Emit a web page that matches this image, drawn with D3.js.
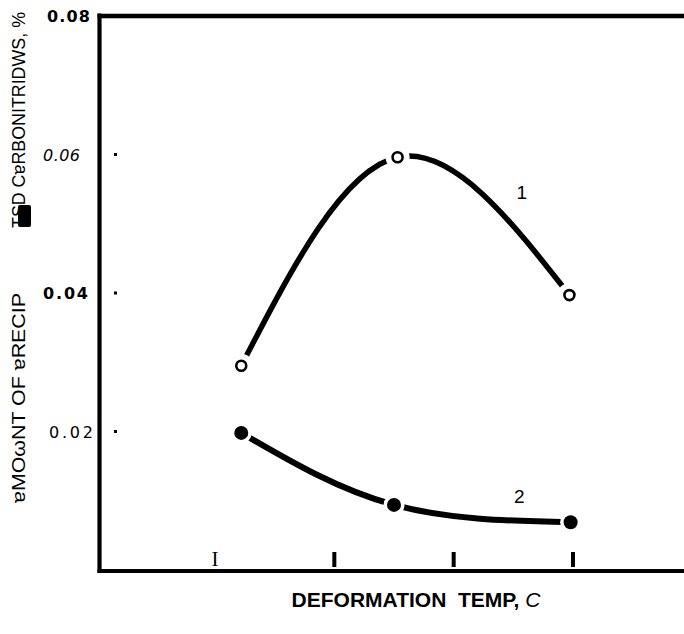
<!DOCTYPE html>
<html>
<head>
<meta charset="utf-8">
<script src="https://cdn.jsdelivr.net/npm/d3@7"></script>
<style>
  html, body { margin: 0; padding: 0; background: #fff; }
  svg { display: block; }
</style>
</head>
<body>
<svg id="chart" width="684" height="634"></svg>
<script>
// ---------- data ----------
const xTicks = [900, 1000, 1100, 1200];          // deformation temperature ticks (unlabelled)
const yTicks = [0.02, 0.04, 0.06, 0.08];
const yTickLabels = ["0.02", "0.04", "0.06", "0.08"];

const temp1 = [922, 1053, 1197];                   // curve 1 (open circles)
const carbo1 = [0.0295, 0.0596, 0.0397];
const temp2 = [922, 1050, 1198];                   // curve 2 (filled circles)
const carbo2 = [0.0198, 0.0094, 0.0069];

const curveLabels = ["1", "2"];
const curveLabelTemp = [1157, 1155];
const curveLabelValue = [0.0546, 0.0107];

const yTitleA = "ɐMOωNT OF ɐRECIP";
const yTitleB = "TSD CɐRBONITRIDWS, %";
const xTitleMain = "DEFORMATION  TEMP, ";
const xTitleUnit = "C";

// ---------- layout ----------
const svg = d3.select("#chart");
const x = d3.scaleLinear().domain([900, 1200]).range([215, 573]);
const y = d3.scaleLinear().domain([0, 0.08]).range([570, 16]);

const frameLeft = 99.5, frameTop = 16, frameBottom = 571, frameRight = 684;

// frame lines
svg.append("line").attr("x1", frameLeft).attr("x2", frameLeft)
  .attr("y1", frameTop - 2.5).attr("y2", frameBottom + 2)
  .attr("stroke", "#000").attr("stroke-width", 4.2);
svg.append("line").attr("x1", frameLeft - 2).attr("x2", frameRight)
  .attr("y1", frameTop).attr("y2", frameTop)
  .attr("stroke", "#000").attr("stroke-width", 4.6);
svg.append("line").attr("x1", frameLeft - 2).attr("x2", frameRight)
  .attr("y1", frameBottom).attr("y2", frameBottom)
  .attr("stroke", "#000").attr("stroke-width", 4);

// y tick labels (via axis)
const labelStyle = {
  "0.08": { weight: "bold", style: "normal", x: 47, len: 43 },
  "0.06": { weight: "normal", style: "italic", x: 43, len: 37 },
  "0.04": { weight: "bold", style: "normal", x: 43, len: 45 },
  "0.02": { weight: "normal", style: "normal", x: 49, len: 44 }
};
const yAxis = d3.axisLeft(y).tickValues(yTicks).tickSize(0)
  .tickFormat((d, i) => yTickLabels[i]);
const gy = svg.append("g").call(yAxis);
gy.select(".domain").remove();
gy.selectAll(".tick text").each(function(d, i) {
  const s = labelStyle[yTickLabels[i]];
  d3.select(this)
    .attr("x", s.x).attr("dy", "0.36em")
    .attr("text-anchor", "start")
    .attr("font-family", "'DejaVu Sans', sans-serif")
    .attr("font-size", 16)
    .attr("font-weight", s.weight)
    .attr("font-style", s.style)
    .attr("fill", "#000")
    .attr("textLength", s.len)
    .attr("lengthAdjust", "spacing");
});

// small dot tick marks inside the frame
svg.append("g").selectAll("rect")
  .data(yTicks.filter(d => d < 0.08))
  .join("rect")
  .attr("x", 114).attr("y", d => y(d) - 1.5)
  .attr("width", 3).attr("height", 3).attr("fill", "#000");

// x tick marks
const xg = svg.append("g");
xg.selectAll("rect")
  .data(xTicks.slice(1))
  .join("rect")
  .attr("x", d => x(d) - 2).attr("y", 552)
  .attr("width", 4).attr("height", 15).attr("fill", "#000");
xg.append("text")
  .attr("x", x(xTicks[0])).attr("y", 566)
  .attr("text-anchor", "middle")
  .attr("font-family", "'Liberation Serif', 'DejaVu Serif', serif")
  .attr("font-size", 21)
  .attr("fill", "#000")
  .text("I");

// curves
const line = d3.line().x(d => x(d[0])).y(d => y(d[1])).curve(d3.curveNatural);
const pts1 = temp1.map((t, i) => [t, carbo1[i]]);
const pts2 = temp2.map((t, i) => [t, carbo2[i]]);

svg.append("path").attr("d", line(pts1))
  .attr("fill", "none").attr("stroke", "#000").attr("stroke-width", 5.5)
  .attr("stroke-linecap", "butt");
svg.append("path").attr("d", line(pts2))
  .attr("fill", "none").attr("stroke", "#000").attr("stroke-width", 6)
  .attr("stroke-linecap", "butt");

// white halos (gaps) around markers
svg.append("g").selectAll("circle").data(pts1).join("circle")
  .attr("cx", d => x(d[0])).attr("cy", d => y(d[1])).attr("r", 12).attr("fill", "#fff");
svg.append("g").selectAll("circle").data(pts2).join("circle")
  .attr("cx", d => x(d[0])).attr("cy", d => y(d[1])).attr("r", 10.5).attr("fill", "#fff");

// markers
svg.append("g").selectAll("circle").data(pts1).join("circle")
  .attr("cx", d => x(d[0])).attr("cy", d => y(d[1])).attr("r", 5)
  .attr("fill", "#fff").attr("stroke", "#000").attr("stroke-width", 2.6);
svg.append("g").selectAll("circle").data(pts2).join("circle")
  .attr("cx", d => x(d[0])).attr("cy", d => y(d[1])).attr("r", 7)
  .attr("fill", "#000");

// curve labels
svg.append("g").selectAll("text").data(curveLabels).join("text")
  .attr("x", (d, i) => x(curveLabelTemp[i]))
  .attr("y", (d, i) => y(curveLabelValue[i]))
  .attr("dy", "0.36em")
  .attr("text-anchor", "middle")
  .attr("font-family", "'Liberation Sans', Arial, sans-serif")
  .attr("font-size", 19)
  .attr("fill", "#000")
  .text(d => d);

// y axis title (two pieces, rotated)
svg.append("text")
  .attr("transform", "translate(25,503) rotate(-90)")
  .attr("text-anchor", "start")
  .attr("font-family", "'Liberation Sans', Arial, sans-serif")
  .attr("font-size", 19)
  .attr("fill", "#000")
  .attr("textLength", 210).attr("lengthAdjust", "spacingAndGlyphs")
  .text(yTitleA);
svg.append("text")
  .attr("transform", "translate(25,228) rotate(-90)")
  .attr("text-anchor", "start")
  .attr("font-family", "'Liberation Sans', Arial, sans-serif")
  .attr("font-size", 17.5)
  .attr("fill", "#000")
  .attr("textLength", 216).attr("lengthAdjust", "spacingAndGlyphs")
  .text(yTitleB);
// ink blot over the title
svg.append("rect").attr("x", 18).attr("y", 205).attr("width", 13).attr("height", 22)
  .attr("rx", 2).attr("fill", "#000");

// x axis title
const xt = svg.append("text")
  .attr("x", 416).attr("y", 607)
  .attr("text-anchor", "middle")
  .attr("font-family", "'Liberation Sans', Arial, sans-serif")
  .attr("font-size", 21)
  .attr("fill", "#000")
  .attr("xml:space", "preserve")
  .style("white-space", "pre");
xt.append("tspan").attr("font-weight", "bold").text(xTitleMain);
xt.append("tspan").attr("font-style", "italic").text(xTitleUnit);
</script>
</body>
</html>
